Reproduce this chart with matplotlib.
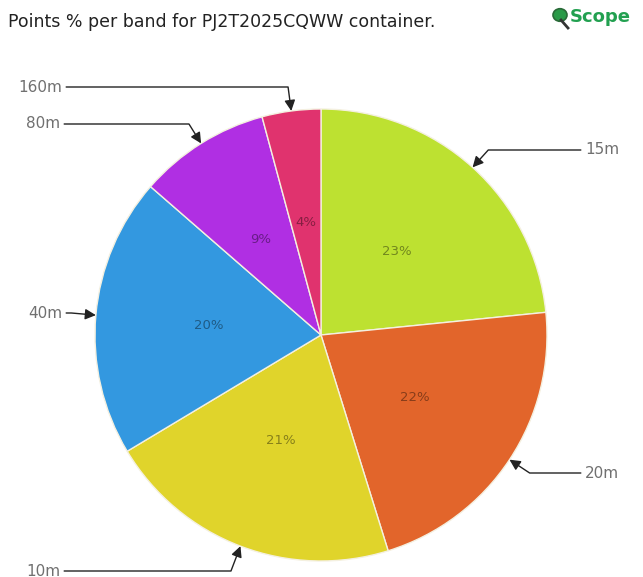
import numpy as np
import matplotlib.pyplot as plt

# данные: диапазоны и доля очков (%)
bands = ['15m', '20m', '10m', '40m', '80m', '160m']
points_pct = [23.4, 21.8, 21.2, 20.0, 9.4, 4.2]
colors = ['#bde131', '#e2652b', '#e0d42b', '#3398e0', '#b02fe3', '#e0336e']

W, H = 643, 577
CX, CY, R = 321, 335, 226  # центр и радиус круга в пикселях


def px(x, y):  # пиксели картинки -> координаты данных
    return (x - CX) / R, (CY - y) / R


fig = plt.figure(figsize=(W / 100, H / 100), dpi=100, facecolor='white')
ax = fig.add_axes([0, 0, 1, 1])
ax.axis('off')

wedges, texts, autotexts = ax.pie(points_pct, colors=colors, startangle=90, counterclock=False,
                                  radius=1, center=(0, 0), autopct=lambda p: '%d%%' % round(p),
                                  pctdistance=0.5, frame=False,
                                  wedgeprops=dict(edgecolor='#f4f0e0', linewidth=1),
                                  textprops=dict(fontsize=9.5, color='black', alpha=0.4))
ax.set_xlim(-CX / R, (W - CX) / R)
ax.set_ylim(-(H - CY) / R, CY / R)

# позиции подписей (пиксели) и выравнивание
label_pos = {'15m': (585, 150, 'left'), '20m': (585, 473, 'left'), '10m': (60, 571, 'right'),
             '40m': (62, 313, 'right'), '80m': (60, 124, 'right'), '160m': (62, 87, 'right')}

for w, band in zip(wedges, bands):
    theta = (w.theta1 + w.theta2) / 2
    xy = (np.cos(np.radians(theta)), np.sin(np.radians(theta)))
    lx, ly, ha = label_pos[band]
    ax.annotate(band, xy=xy, xytext=px(lx, ly), ha=ha, va='center', fontsize=11, color='#707070',
                arrowprops=dict(arrowstyle='-|>', color='#222222', lw=1, shrinkA=1, shrinkB=0,
                                mutation_scale=16,
                                connectionstyle='angle,angleA=0,angleB=%.1f,rad=0' % theta))

fig.text(8 / W, 1 - 22 / H, 'Points % per band for PJ2T2025CQWW container.', fontsize=12.5,
         color='#222222', va='center', ha='left')

# логотип
fig.text(570 / W, 1 - 17 / H, 'Scope', fontsize=13, color='#22a050', fontweight='bold',
         va='center', ha='left', family='DejaVu Sans Condensed')
fig.add_artist(plt.Line2D([561 / W, 568 / W], [1 - 20 / H, 1 - 28 / H], transform=fig.transFigure,
                          color='#333333', lw=2))
fig.patches.append(plt.Circle((560 / W, 1 - 15 / H), 7 / W, transform=fig.transFigure,
                              facecolor='#2a9a48', edgecolor='#2a6a38', lw=1.2))

fig.savefig('out.png', dpi=100, facecolor='white')
